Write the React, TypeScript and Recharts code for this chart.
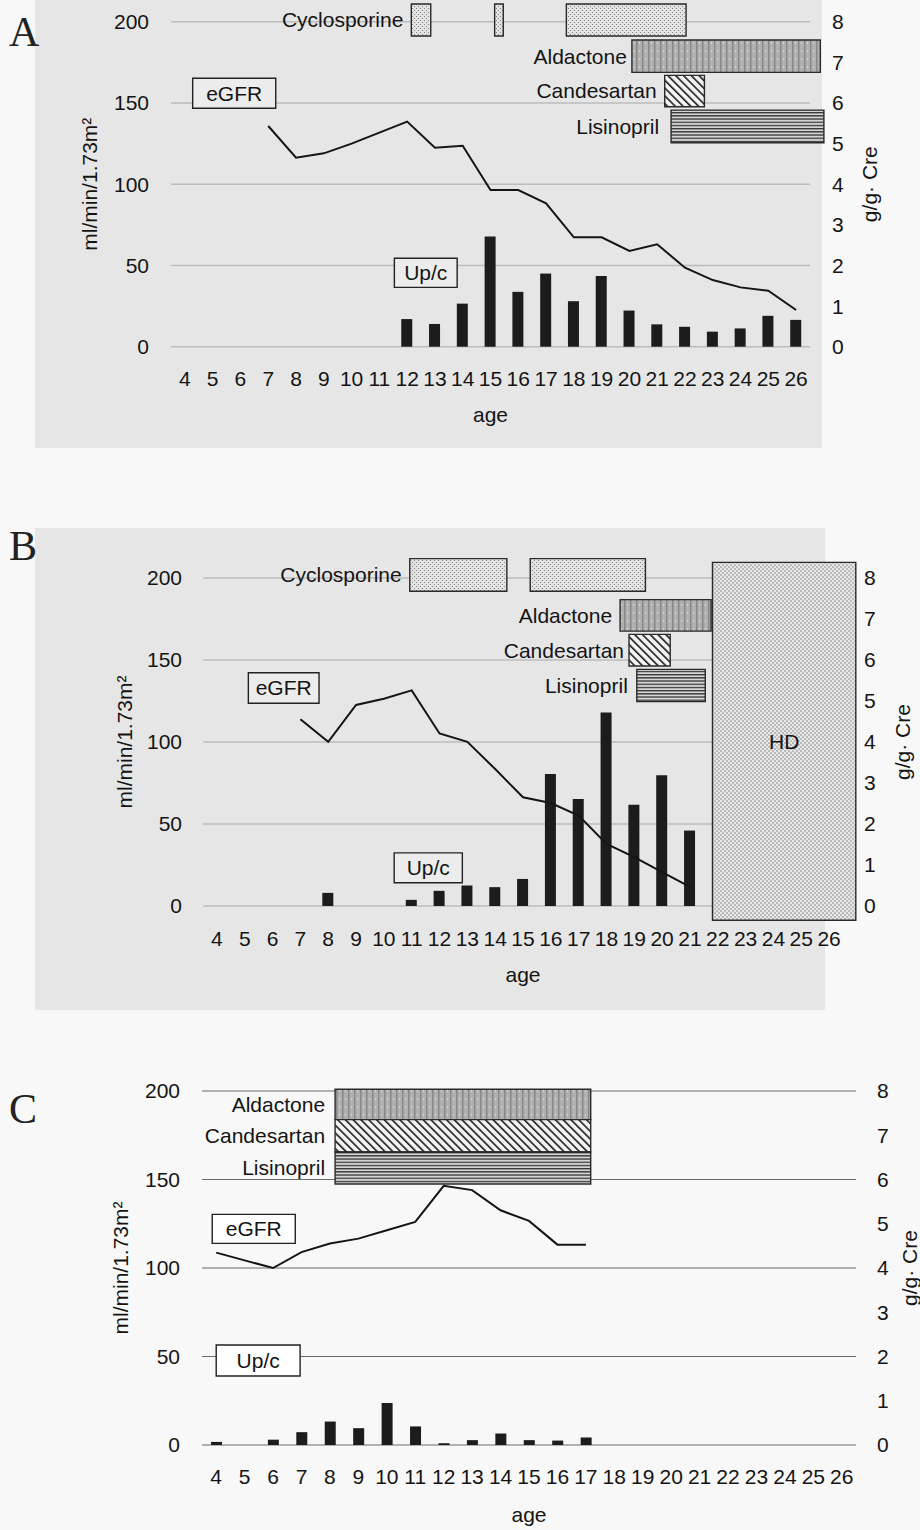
import React from 'react';
import { ComposedChart, Bar, Line, XAxis, YAxis, CartesianGrid, ReferenceArea } from 'recharts';

// ---- shared axes ----
const AGES = [4, 5, 6, 7, 8, 9, 10, 11, 12, 13, 14, 15, 16, 17, 18, 19, 20, 21, 22, 23, 24, 25, 26];
const LEFT_TICKS = [0, 50, 100, 150, 200];
const RIGHT_TICKS = [0, 1, 2, 3, 4, 5, 6, 7, 8];

// ---- patient A ----
const A_EGFR = [null, null, null, 135.8, 116.3, 119, 125, 131.7, 138.5, 122.5, 123.7, 96.4, 96.4, 88.2, 67.3, 67.3, 58.9, 63, 48.6, 41, 36.5, 34.5, 22.6];
const A_UPC = [null, null, null, null, null, null, null, null, 0.68, 0.56, 1.06, 2.71, 1.35, 1.8, 1.12, 1.74, 0.89, 0.55, 0.49, 0.37, 0.45, 0.76, 0.66];
const A_CYCLOSPORINE = [[12.15, 12.85], [15.15, 15.46], [17.73, 22.04]];
const A_ALDACTONE = [[20.09, 26.87]];
const A_CANDESARTAN = [[21.27, 22.7]];
const A_LISINOPRIL = [[21.5, 27.0]];

// ---- patient B ----
const B_EGFR = [null, null, null, 113.9, 100.1, 122.6, 126.4, 131.5, 105.2, 100.1, 83.5, 66.3, 62.8, 55.1, 37.9, 29.8, 20.7, 11.6, null, null, null, null, null];
const B_UPC = [null, null, null, null, 0.32, null, null, 0.15, 0.37, 0.5, 0.46, 0.66, 3.22, 2.61, 4.72, 2.47, 3.19, 1.84, null, null, null, null, null];
const B_CYCLOSPORINE = [[10.93, 14.42], [15.26, 19.4]];
const B_ALDACTONE = [[18.49, 21.76]];
const B_CANDESARTAN = [[18.81, 20.29]];
const B_LISINOPRIL = [[19.09, 21.55]];
const B_HD = [[21.81, 26.96]];

// ---- patient C ----
const C_EGFR = [108.7, 104.3, 100, 109, 113.8, 116.6, 121.3, 126, 146.4, 144, 132.6, 126.6, 113.2, 113.2, null, null, null, null, null, null, null, null, null];
const C_UPC = [0.07, null, 0.12, 0.29, 0.53, 0.38, 0.95, 0.42, 0.04, 0.11, 0.26, 0.11, 0.1, 0.17, null, null, null, null, null, null, null, null, null];
const C_ALDACTONE = [[8.18, 17.17]];
const C_CANDESARTAN = [[8.18, 17.17]];
const C_LISINOPRIL = [[8.18, 17.17]];

const FONT = '"Liberation Sans", Arial, Helvetica, sans-serif';
const INK = '#141414';

type Span = number[];
interface MedRow { name: string; spans: Span[]; band: Span; pattern: string; gap: number; label?: string }
interface NoteBox { text: string; x: Span; y: Span }
interface PanelProps {
  top: number; height: number;
  plotLeft: number; plotRight: number; plotTop: number; plotBottom: number;
  egfr: (number | null)[]; upc: (number | null)[];
  meds: MedRow[]; notes: NoteBox[];
  noteFill: string; gridColor: string; gridWidth: number;
  leftTitleX: number; rightTitleX: number; ageBaseline: number;
  xTickMargin: number; leftTickMargin: number; rightTickMargin: number;
}

function Panel(p: PanelProps) {
  const data = AGES.map((age, i) => ({ age, egfr: p.egfr[i], upc: p.upc[i] }));
  const width = 920;
  const xh = p.top + p.height - p.plotBottom;
  const textStyle = { fontSize: 21, fill: INK, fontFamily: FONT };
  return (
    <div style={{ position: 'absolute', left: 0, top: p.top }}>
      <ComposedChart width={width} height={p.height} data={data}
        margin={{ top: p.plotTop - p.top, right: 0, left: 0, bottom: 0 }}>
        <CartesianGrid yAxisId="left" vertical={false} stroke={p.gridColor} strokeWidth={p.gridWidth} />
        <XAxis dataKey="age" type="number" domain={[3.5, 26.5]} ticks={AGES} interval={0}
          height={xh} tickLine={false} axisLine={false} tickSize={0} tickMargin={p.xTickMargin}
          tick={textStyle}
          label={{ value: 'age', position: 'insideBottom', offset: p.top + p.height - p.ageBaseline, ...textStyle }} />
        <YAxis yAxisId="left" orientation="left" domain={[0, 200]} ticks={LEFT_TICKS} width={p.plotLeft}
          tickLine={false} axisLine={false} tickSize={0} tickMargin={p.leftTickMargin} tick={textStyle}
          label={{ value: 'ml/min/1.73m²', angle: -90, position: 'insideLeft', offset: p.leftTitleX,
            style: { textAnchor: 'middle' }, ...textStyle }} />
        <YAxis yAxisId="right" orientation="right" domain={[0, 8]} ticks={RIGHT_TICKS} width={width - p.plotRight}
          tickLine={false} axisLine={false} tickSize={0} tickMargin={p.rightTickMargin} tick={textStyle}
          label={{ value: 'g/g· Cre', angle: -90, position: 'insideRight', offset: width - p.rightTitleX,
            style: { textAnchor: 'middle' }, ...textStyle }} />
        {p.meds.map((m) => m.spans.map((s, j) => (
          <ReferenceArea key={m.name + j} yAxisId="left" x1={s[0]} x2={s[1]} y1={m.band[0]} y2={m.band[1]}
            ifOverflow="visible" fill={`url(#${m.pattern})`} fillOpacity={1} stroke="#2a2a2a" strokeWidth={1.4}
            label={j === 0 ? { value: m.label ?? m.name, position: m.label ? 'center' : 'left', offset: m.gap, ...textStyle } : undefined} />
        )))}
        {p.notes.map((n) => (
          <ReferenceArea key={n.text} yAxisId="left" x1={n.x[0]} x2={n.x[1]} y1={n.y[0]} y2={n.y[1]}
            ifOverflow="visible" fill={p.noteFill} fillOpacity={1} stroke="#222" strokeWidth={1.4}
            label={{ value: n.text, position: 'center', ...textStyle }} />
        ))}
        <Bar yAxisId="right" dataKey="upc" barSize={11} fill="#1c1c1c" isAnimationActive={false} />
        <Line yAxisId="left" dataKey="egfr" type="linear" stroke="#151515" strokeWidth={2}
          dot={false} activeDot={false} isAnimationActive={false} />
      </ComposedChart>
    </div>
  );
}

const letter = (ch: string, top: number) => (
  <div style={{ position: 'absolute', left: 9, top, fontFamily: '"Liberation Serif", "Times New Roman", serif',
    fontSize: 42, lineHeight: 1, color: '#222' }}>{ch}</div>
);

export default function App() {
  return (
    <div style={{ position: 'absolute', left: 0, top: 0, width: 920, height: 1530, background: '#f8f8f8', overflow: 'hidden' }}>
      <svg width={0} height={0} style={{ position: 'absolute' }}>
        <defs>
          <pattern id="pat-cyclo" width="4" height="4" patternUnits="userSpaceOnUse">
            <rect width="4" height="4" fill="#e2e2e2" />
            <rect x="0" y="0" width="1" height="1" fill="#888" />
            <rect x="2" y="2" width="1" height="1" fill="#888" />
          </pattern>
          <pattern id="pat-ald" width="6" height="8" patternUnits="userSpaceOnUse">
            <rect width="6" height="8" fill="#b0b0b0" />
            <rect x="0" width="1.5" height="8" fill="#888" />
            <rect x="3" y="2" width="1" height="2" fill="#d4d4d4" />
          </pattern>
          <pattern id="pat-cand" width="5.5" height="5.5" patternUnits="userSpaceOnUse" patternTransform="rotate(-45)">
            <rect width="5.5" height="5.5" fill="#f2f2f2" />
            <rect x="0" width="1.6" height="5.5" fill="#1e1e1e" />
          </pattern>
          <pattern id="pat-lis" width="4" height="3.2" patternUnits="userSpaceOnUse">
            <rect width="4" height="3.2" fill="#d6d6d6" />
            <rect y="0" width="4" height="1.3" fill="#333" />
          </pattern>
          <pattern id="pat-hd" width="4" height="4" patternUnits="userSpaceOnUse">
            <rect width="4" height="4" fill="#e8e8e8" />
            <circle cx="1" cy="1" r="0.65" fill="#666" />
            <circle cx="3" cy="3" r="0.65" fill="#666" />
          </pattern>
        </defs>
      </svg>

      {/* scanned panel backgrounds */}
      <div style={{ position: 'absolute', left: 35, top: 0, width: 787, height: 448, background: '#e6e6e6' }} />
      <div style={{ position: 'absolute', left: 35, top: 528, width: 790, height: 482, background: '#e6e6e6' }} />

      {letter('A', 11)}
      {letter('B', 525)}
      {letter('C', 1088)}

      <Panel top={0} height={445} plotLeft={171} plotRight={810} plotTop={21.7} plotBottom={346.7}
        egfr={A_EGFR} upc={A_UPC} noteFill="#ececec" gridColor="#bcbcbc" gridWidth={1.5}
        leftTitleX={90} rightTitleX={870} ageBaseline={422}
        xTickMargin={24} leftTickMargin={22} rightTickMargin={22}
        meds={[
          { name: 'Cyclosporine', spans: A_CYCLOSPORINE, band: [191.2, 210.9], pattern: 'pat-cyclo', gap: 8 },
          { name: 'Aldactone', spans: A_ALDACTONE, band: [168.8, 188.7], pattern: 'pat-ald', gap: 5 },
          { name: 'Candesartan', spans: A_CANDESARTAN, band: [147.7, 167], pattern: 'pat-cand', gap: 8 },
          { name: 'Lisinopril', spans: A_LISINOPRIL, band: [125.5, 145.6], pattern: 'pat-lis', gap: 12 },
        ]}
        notes={[
          { text: 'eGFR', x: [4.28, 7.27], y: [146.7, 165.2] },
          { text: 'Up/c', x: [11.54, 13.8], y: [36.5, 54.4] },
        ]} />

      <Panel top={530} height={470} plotLeft={203} plotRight={843} plotTop={578} plotBottom={906}
        egfr={B_EGFR} upc={B_UPC} noteFill="#ececec" gridColor="#bcbcbc" gridWidth={1.5}
        leftTitleX={125} rightTitleX={903} ageBaseline={982}
        xTickMargin={25} leftTickMargin={21} rightTickMargin={21}
        meds={[
          { name: 'Cyclosporine', spans: B_CYCLOSPORINE, band: [191.9, 211.8], pattern: 'pat-cyclo', gap: 8 },
          { name: 'Aldactone', spans: B_ALDACTONE, band: [167.6, 186.8], pattern: 'pat-ald', gap: 8 },
          { name: 'Candesartan', spans: B_CANDESARTAN, band: [146.3, 165.6], pattern: 'pat-cand', gap: 5 },
          { name: 'Lisinopril', spans: B_LISINOPRIL, band: [124.6, 144.3], pattern: 'pat-lis', gap: 9 },
          { name: 'HD', label: 'HD', spans: B_HD, band: [-8.7, 209.5], pattern: 'pat-hd', gap: 0 },
        ]}
        notes={[
          { text: 'eGFR', x: [5.13, 7.67], y: [123.6, 142.2] },
          { text: 'Up/c', x: [10.37, 12.82], y: [14.2, 32.4] },
        ]} />

      <Panel top={1040} height={490} plotLeft={202} plotRight={856} plotTop={1091} plotBottom={1445}
        egfr={C_EGFR} upc={C_UPC} noteFill="#ffffff" gridColor="#6a6a6a" gridWidth={1.2}
        leftTitleX={121} rightTitleX={910} ageBaseline={1522}
        xTickMargin={24} leftTickMargin={22} rightTickMargin={21}
        meds={[
          { name: 'Aldactone', spans: C_ALDACTONE, band: [183.8, 201], pattern: 'pat-ald', gap: 10 },
          { name: 'Candesartan', spans: C_CANDESARTAN, band: [165.5, 183.8], pattern: 'pat-cand', gap: 10 },
          { name: 'Lisinopril', spans: C_LISINOPRIL, band: [147.5, 165.5], pattern: 'pat-lis', gap: 10 },
        ]}
        notes={[
          { text: 'eGFR', x: [3.86, 6.78], y: [113.9, 130.3] },
          { text: 'Up/c', x: [4.0, 6.95], y: [39, 56.5] },
        ]} />
    </div>
  );
}
